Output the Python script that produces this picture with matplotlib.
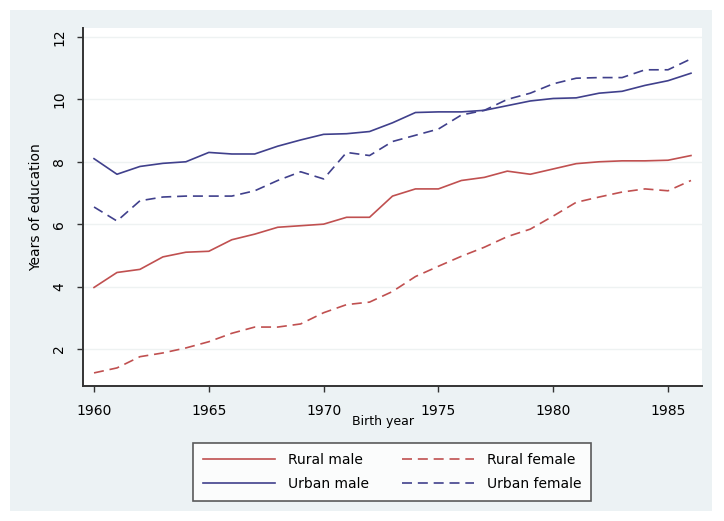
import matplotlib
matplotlib.use("Agg")
import matplotlib.pyplot as plt
from matplotlib.patches import Rectangle

# Data
years = list(range(1960, 1987))
rural_male = [3.97, 4.45, 4.55, 4.95, 5.1, 5.13, 5.5, 5.68, 5.9, 5.95, 6.0, 6.22, 6.22,
              6.9, 7.13, 7.13, 7.4, 7.5, 7.7, 7.6, 7.77, 7.94, 8.0, 8.03, 8.03, 8.05, 8.2]
rural_female = [1.23, 1.39, 1.75, 1.87, 2.03, 2.23, 2.5, 2.7, 2.7, 2.8, 3.16, 3.42, 3.5,
                3.84, 4.32, 4.65, 4.97, 5.26, 5.6, 5.84, 6.26, 6.7, 6.87, 7.03, 7.13, 7.07, 7.4]
urban_male = [8.1, 7.6, 7.85, 7.95, 8.0, 8.3, 8.25, 8.25, 8.5, 8.7, 8.88, 8.9, 8.97,
              9.25, 9.58, 9.6, 9.6, 9.65, 9.8, 9.95, 10.03, 10.05, 10.2, 10.26, 10.45, 10.6, 10.84]
urban_female = [6.55, 6.1, 6.75, 6.87, 6.9, 6.9, 6.9, 7.07, 7.4, 7.68, 7.45, 8.3, 8.2,
                8.65, 8.85, 9.05, 9.5, 9.65, 10.0, 10.2, 10.5, 10.68, 10.7, 10.7, 10.95, 10.95, 11.3]

x_ticks = [1960, 1965, 1970, 1975, 1980, 1985]
y_ticks = [2, 4, 6, 8, 10, 12]

RED = "#C05050"
BLUE = "#40408C"
BG = "#ECF2F4"

fig = plt.figure(figsize=(7.24, 5.21), dpi=100, facecolor="white")
fig.patches.append(Rectangle((10 / 724, 10 / 521), 702 / 724, 501 / 521,
                             transform=fig.transFigure, facecolor=BG,
                             edgecolor="none", zorder=-10))

ax = fig.add_axes([83 / 724, 1 - 386 / 521, (702 - 83) / 724, (386 - 28) / 521])
ax.set_facecolor("white")

dash = (0, (6, 3.5))
ax.plot(years, rural_male, color=RED, lw=1.2, label="Rural male")
ax.plot(years, urban_male, color=BLUE, lw=1.2, label="Urban male")
ax.plot(years, rural_female, color=RED, lw=1.2, ls=dash, label="Rural female")
ax.plot(years, urban_female, color=BLUE, lw=1.2, ls=dash, label="Urban female")

ax.set_xlim(1959.52, 1986.48)
ax.set_ylim(0.81, 12.29)
ax.set_xticks(x_ticks)
ax.set_yticks(y_ticks)
ax.set_yticklabels([str(v) for v in y_ticks], rotation=90, va="center")
ax.tick_params(axis="both", labelsize=10, length=4, width=1, color="#333333")
ax.tick_params(axis="x", pad=9)
ax.tick_params(axis="y", pad=8)
ax.grid(True, axis="y", color="#EEF2F2", lw=1)
ax.set_axisbelow(True)

for side in ["top", "right"]:
    ax.spines[side].set_visible(False)
for side in ["left", "bottom"]:
    ax.spines[side].set_color("#333333")
    ax.spines[side].set_linewidth(1.4)

ax.set_ylabel("Years of education", fontsize=10, labelpad=7)
fig.text(383 / 724, 1 - 421 / 521, "Birth year", fontsize=9, ha="center", va="center")

leg = fig.legend(loc="center", bbox_to_anchor=(392 / 724, 1 - 472 / 521), ncol=2,
                 fontsize=10, frameon=True, fancybox=False, handlelength=5.2,
                 columnspacing=2.4, borderpad=0.7, labelspacing=0.7, handletextpad=0.9)
leg.get_frame().set_edgecolor("#333333")
leg.get_frame().set_linewidth(1.2)

fig.savefig("out.png", dpi=100, facecolor=fig.get_facecolor())
